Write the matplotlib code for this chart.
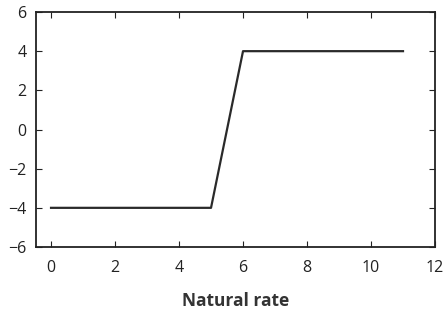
import matplotlib
matplotlib.use("Agg")
import matplotlib.pyplot as plt

x_vals = [0, 5, 6, 11]
y_vals = [-4, -4, 4, 4]
x_ticks = [0, 2, 4, 6, 8, 10, 12]
y_ticks = [-6, -4, -2, 0, 2, 4, 6]
x_label = "Natural rate"

plt.rcParams['font.family'] = ['Open Sans', 'DejaVu Sans']
fig = plt.figure(figsize=(4.44, 3.12), dpi=100)
ax = fig.add_axes([36/444, 1-247/312, (435-36)/444, (247-12)/312])
ax.plot(x_vals, y_vals, color='#2a2a2a', lw=1.6)
ax.set_xlim(-0.47, 12)
ax.set_ylim(-6, 6)
ax.set_xticks(x_ticks)
ax.set_yticks(y_ticks)
ax.set_yticklabels([f"{v}".replace('-', '\u2212') for v in y_ticks])
ax.tick_params(direction='in', top=True, right=True, length=4, width=0.8,
               labelsize=11.5, colors='#222222')
ax.tick_params(axis='x', pad=9)
ax.tick_params(axis='y', pad=7)
for s in ax.spines.values():
    s.set_linewidth(1.3)
    s.set_color('#222222')
ax.set_xlabel(x_label, fontsize=12.5, fontweight='bold', color='#333333', labelpad=12)
fig.savefig("out.png", dpi=100)
